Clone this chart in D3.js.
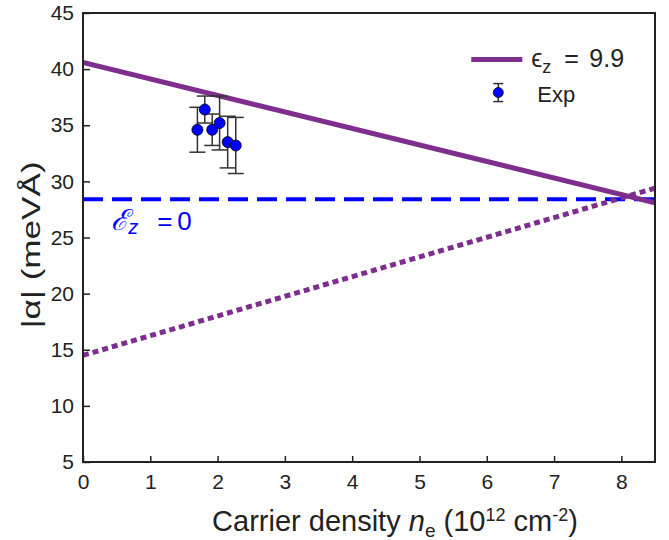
<!DOCTYPE html>
<html>
<head>
<meta charset="utf-8">
<script src="https://cdn.jsdelivr.net/npm/d3@7"></script>
<style>
  body { margin: 0; background: #fff; }
  svg text { font-family: "Liberation Sans", Arial, sans-serif; }
</style>
</head>
<body>
<div id="chart"></div>
<script>
// experimental points: carrier density, |alpha|, error
const expX = [1.70, 1.81, 1.92, 2.03, 2.15, 2.27];
const expY = [34.6, 36.4, 34.6, 35.2, 33.5, 33.2];
const expErr = [2.0, 1.2, 1.4, 2.4, 2.3, 2.5];

// model lines (endpoints at n = 0 and n = 8.5)
const lineN = [0, 8.5];
const solidY = [40.6, 28.1];   // eps_z = 9.9
const dottedY = [14.5, 29.4];
const dashedY = [28.4, 28.4];  // E_z = 0

const xTicks = [0, 1, 2, 3, 4, 5, 6, 7, 8];
const yTicks = [5, 10, 15, 20, 25, 30, 35, 40, 45];

const purple = '#7e2f8e';
const blue = '#0000ff';

const W = 669, H = 540;
const margin = { top: 13, right: 14, bottom: 78, left: 83 };
const width = W - margin.left - margin.right;
const height = H - margin.top - margin.bottom;

const svg = d3.select('#chart').append('svg')
    .attr('width', W).attr('height', H);
const g = svg.append('g')
    .attr('transform', `translate(${margin.left}, ${margin.top})`);

const xScale = d3.scaleLinear().domain([0, 8.5]).range([0, width]);
const yScale = d3.scaleLinear().domain([5, 45]).range([height, 0]);

// clip for lines
g.append('clipPath').attr('id', 'clip')
    .append('rect').attr('width', width).attr('height', height);

const lines = g.append('g').attr('clip-path', 'url(#clip)');
const lineGen = d3.line().x(d => xScale(d[0])).y(d => yScale(d[1]));

lines.append('path')
    .datum(lineN.map((n, i) => [n, dashedY[i]]))
    .attr('d', lineGen)
    .attr('fill', 'none').attr('stroke', blue)
    .attr('stroke-width', 4).attr('stroke-dasharray', '20,9');

lines.append('path')
    .datum(lineN.map((n, i) => [n, dottedY[i]]))
    .attr('d', lineGen)
    .attr('fill', 'none').attr('stroke', purple)
    .attr('stroke-width', 5).attr('stroke-dasharray', '6,4');

lines.append('path')
    .datum(lineN.map((n, i) => [n, solidY[i]]))
    .attr('d', lineGen)
    .attr('fill', 'none').attr('stroke', purple)
    .attr('stroke-width', 5);

// error bars
const pts = expX.map((x, i) => ({ x: x, y: expY[i], e: expErr[i] }));
const errs = g.append('g').attr('stroke', '#333').attr('stroke-width', 1.5);
pts.forEach(d => {
    const cx = xScale(d.x);
    errs.append('line').attr('x1', cx).attr('x2', cx)
        .attr('y1', yScale(d.y + d.e)).attr('y2', yScale(d.y - d.e));
    [d.y + d.e, d.y - d.e].forEach(v => {
        errs.append('line').attr('x1', cx - 8).attr('x2', cx + 8)
            .attr('y1', yScale(v)).attr('y2', yScale(v));
    });
});

g.append('g').selectAll('circle')
    .data(pts).enter().append('circle')
    .attr('cx', d => xScale(d.x))
    .attr('cy', d => yScale(d.y))
    .attr('r', 5.5)
    .attr('fill', blue).attr('stroke', '#000').attr('stroke-width', 0.8);

// axes (ticks pointing inward)
const xAxis = g.append('g')
    .attr('transform', `translate(0, ${height})`)
    .call(d3.axisBottom(xScale).tickValues(xTicks).tickSizeInner(-6).tickSizeOuter(0).tickPadding(12));
const yAxis = g.append('g')
    .call(d3.axisLeft(yScale).tickValues(yTicks).tickSizeInner(-7).tickSizeOuter(0).tickPadding(9));

[xAxis, yAxis].forEach(a => {
    a.select('.domain').remove();
    a.selectAll('line').attr('stroke', '#222').attr('stroke-width', 1.5);
    a.selectAll('text').attr('font-size', 21).attr('fill', '#222')
        .attr('font-family', '"Liberation Sans", Arial, sans-serif');
});

// box
g.append('rect').attr('width', width).attr('height', height)
    .attr('fill', 'none').attr('stroke', '#222').attr('stroke-width', 2);

// E_z = 0 annotation
const ezX = xScale(0.42), ezY = yScale(25.65);
const ez = g.append('text')
    .attr('x', ezX).attr('y', ezY)
    .attr('fill', blue).attr('font-size', 29)
    .attr('font-family', '"DejaVu Serif", serif');
ez.append('tspan').attr('font-style', 'italic').text('ℰ');
ez.append('tspan').attr('font-style', 'italic').attr('font-size', 20).attr('dy', 4).text('z');
ez.append('tspan').attr('x', ezX + 46).attr('dy', -4).attr('font-size', 26).text('=');
ez.append('tspan').attr('x', ezX + 66).attr('font-size', 26).text('0');

// legend
const leg = g.append('g').attr('transform', `translate(${xScale(5.77)}, ${yScale(40.85)})`);
leg.append('line').attr('x1', 0).attr('x2', 51).attr('y1', 0).attr('y2', 0)
    .attr('stroke', purple).attr('stroke-width', 5);
const lt = leg.append('text').attr('x', 60).attr('y', 7)
    .attr('font-size', 25).attr('fill', '#222')
    .attr('font-family', '"DejaVu Serif", serif');
lt.append('tspan').text('ϵ');
lt.append('tspan').attr('font-size', 18).attr('dy', 6).text('z');
lt.append('tspan').attr('x', 93).attr('dy', -6).text('=');
lt.append('tspan').attr('x', 118).text('9.9');

const lm = leg.append('g').attr('transform', 'translate(27, 33)');
lm.append('line').attr('x1', 0).attr('x2', 0).attr('y1', -9).attr('y2', 9)
    .attr('stroke', '#333').attr('stroke-width', 1.5);
[-9, 9].forEach(v => lm.append('line').attr('x1', -5).attr('x2', 5)
    .attr('y1', v).attr('y2', v).attr('stroke', '#333').attr('stroke-width', 1.5));
lm.append('circle').attr('r', 5).attr('fill', blue).attr('stroke', '#000').attr('stroke-width', 0.8);
leg.append('text').attr('x', 66).attr('y', 42).attr('font-size', 22)
    .attr('fill', '#222').text('Exp');

// axis labels
const xl = svg.append('text')
    .attr('x', 395).attr('y', 531)
    .attr('text-anchor', 'middle').attr('font-size', 29).attr('fill', '#222');
xl.append('tspan').text('Carrier density ');
xl.append('tspan').attr('font-style', 'italic').text('n');
xl.append('tspan').attr('font-size', 19).attr('dy', 6).text('e');
xl.append('tspan').attr('dy', -6).text(' (10');
xl.append('tspan').attr('font-size', 18).attr('dy', -10).text('12');
xl.append('tspan').attr('dy', 10).text(' cm');
xl.append('tspan').attr('font-size', 18).attr('dy', -10).text('-2');
xl.append('tspan').attr('dy', 10).text(')');

svg.append('text')
    .attr('transform', `translate(40, 245) rotate(-90) scale(1.35, 1)`)
    .attr('text-anchor', 'middle').attr('font-size', 26).attr('fill', '#222')
    .text('|α| (meVÅ)');
</script>
</body>
</html>
